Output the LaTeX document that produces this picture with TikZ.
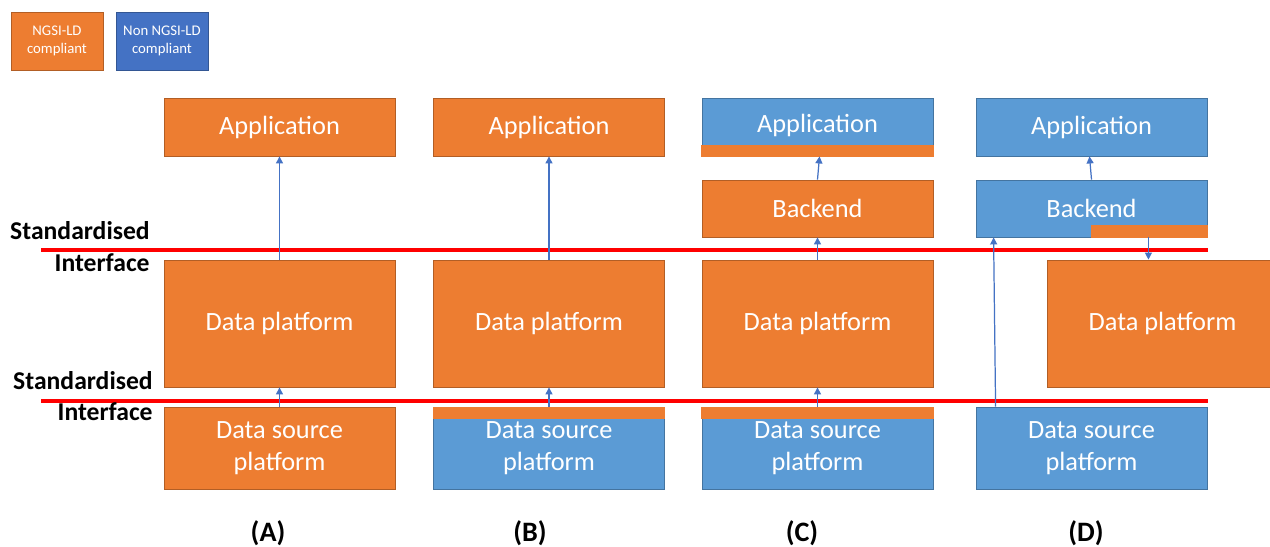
\documentclass[tikz,border=0pt]{standalone}
\usepackage{fontspec}
\setmainfont{Carlito}
\usetikzlibrary{arrows.meta}
\definecolor{ngsi}{HTML}{ED7D31}
\definecolor{nonngsi}{HTML}{5B9BD5}
\definecolor{legblue}{HTML}{4472C4}
\definecolor{arrowblue}{HTML}{4472C4}
\tikzset{
  layer/.style={fill=#1, draw=#1!75!black, line width=0.5pt, text=white, align=center,
    minimum width=4.62cm, inner sep=0pt, font=\fontsize{15}{18}\selectfont},
  legend/.style={fill=#1, draw=#1!75!black, line width=0.5pt, text=white, align=center,
    minimum width=1.84cm, minimum height=1.16cm, inner sep=0pt, font=\fontsize{8.4}{10}\selectfont},
  flow/.style={draw=arrowblue, line width=0.7pt, -{Triangle[length=4pt,width=4pt]}},
  iface/.style={draw=red, line width=1.8pt},
  ifacelabel/.style={anchor=east, font=\bfseries\fontsize{14.6}{17}\selectfont, inner sep=0pt},
  caselabel/.style={font=\bfseries\fontsize{16}{19}\selectfont}
}
\begin{document}
\begin{tikzpicture}[x=0.02cm, y=-0.02cm]
  \clip (0,0) rectangle (1270,547);
  \fill[white] (0,0) rectangle (1270,547);
  % legend
  \node[legend=ngsi] (legA) at (57,41) {NGSI-LD\\compliant};
  \node[legend=legblue] (legB) at (162,41) {Non NGSI-LD\\compliant};
  % (A)
  \node[layer=ngsi, minimum height=1.16cm] (appA) at (279.5,127) {Application};
  \node[layer=ngsi, minimum height=2.54cm] (platA) at (279.5,323.5) {Data platform};
  \node[layer=ngsi, minimum height=1.64cm] (srcA) at (279.5,448) {Data source\\platform};
  % (B)
  \node[layer=ngsi, minimum height=1.16cm] (appB) at (549,127) {Application};
  \node[layer=ngsi, minimum height=2.54cm] (platB) at (549,323.5) {Data platform};
  \node[layer=nonngsi, minimum height=1.64cm] (srcB) at (549,448) {Data source\\platform};
  \fill[ngsi] (433,407) rectangle (665,419);
  % (C)
  \node[layer=nonngsi, minimum height=1.16cm] (appC) at (817.5,127) {};
  \fill[ngsi] (701,145) rectangle (934,157);
  \node[text=white, font=\fontsize{15}{18}\selectfont] (appCtext) at (817.5,125.5) {Application};
  \node[layer=ngsi, minimum height=1.14cm] (backC) at (817.5,208.5) {Backend};
  \node[layer=ngsi, minimum height=2.54cm] (platC) at (817.5,323.5) {Data platform};
  \node[layer=nonngsi, minimum height=1.64cm] (srcC) at (817.5,448) {Data source\\platform};
  \fill[ngsi] (701,407) rectangle (934,419);
  % (D)
  \node[layer=nonngsi, minimum height=1.16cm] (appD) at (1091.5,127) {Application};
  \node[layer=nonngsi, minimum height=1.14cm] (backD) at (1091.5,208.5) {Backend};
  \fill[ngsi] (1091,225) rectangle (1208,238);
  \node[layer=ngsi, minimum height=2.54cm] (platD) at (1162.5,323.5) {Data platform};
  \node[layer=nonngsi, minimum height=1.64cm] (srcD) at (1091.5,448) {Data source\\platform};
  % interfaces
  \draw[iface] (41,250) -- (1208,250);
  \draw[iface] (41,401) -- (1208,401);
  \node[ifacelabel] (stdTop) at (150,231) {Standardised};
  \node[ifacelabel] (ifTop) at (150,263) {Interface};
  \node[ifacelabel] (stdBot) at (153,381) {Standardised};
  \node[ifacelabel] (ifBot) at (153,412) {Interface};
  % flows
  \draw[flow] (platA) -- (appA);
  \draw[flow] (srcA) -- (platA);
  \draw[flow] (platB) -- (appB);
  \draw[flow] (srcB) -- (platB);
  \draw[flow] (backC.north) -- ([xshift=0.04cm]appC.south);
  \draw[flow] (platC) -- (backC);
  \draw[flow] (srcC) -- (platC);
  \draw[flow] (backD.north) -- ([xshift=-0.04cm]appD.south);
  \draw[flow] ([xshift=0.4cm]srcD.north west) -- ([xshift=0.36cm]backD.south west);
  \draw[flow] ([xshift=-1.18cm]backD.south east) -- ([xshift=-1.18cm]backD.south east |- platD.north);
  % cases
  \node[caselabel] (caseA) at (268,533) {(A)};
  \node[caselabel] (caseB) at (530,533) {(B)};
  \node[caselabel] (caseC) at (802,533) {(C)};
  \node[caselabel] (caseD) at (1086,533) {(D)};
\end{tikzpicture}
\end{document}
